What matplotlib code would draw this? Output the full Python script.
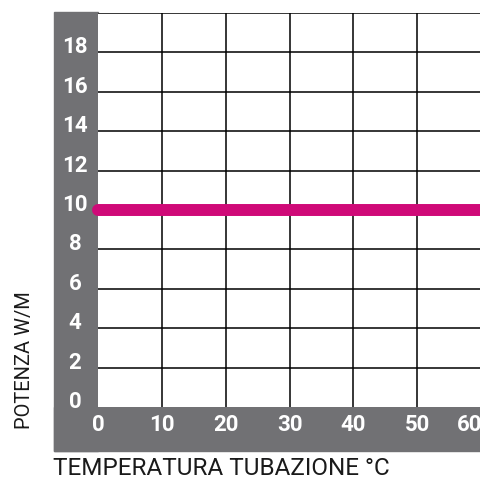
import matplotlib
matplotlib.use('Agg')
import matplotlib.pyplot as plt
from matplotlib.patches import Rectangle

# data
temps = [0, 60]
power = [10, 10]
x_ticks = [0, 10, 20, 30, 40, 50, 60]
y_ticks = [0, 2, 4, 6, 8, 10, 12, 14, 16, 18]
y_grid = [2, 4, 6, 8, 10, 12, 14, 16, 18, 20]
x_grid = [10, 20, 30, 40, 50]

W = 481
gray = '#717174'
magenta = '#cf0a78'

fig = plt.figure(figsize=(4.81, 4.81), dpi=100)
fig.patch.set_facecolor('white')

# gray bands (left and bottom), behind the axes
fig.patches.append(Rectangle((54 / W, (W - 452) / W), 44 / W, (452 - 13) / W,
                             transform=fig.transFigure, color=gray, zorder=-5))
fig.patches.append(Rectangle((54 / W, (W - 452) / W), (W - 54) / W, 44 / W,
                             transform=fig.transFigure, color=gray, zorder=-5))

ax = fig.add_axes([98 / W, (W - 408) / W, (W - 98) / W, (408 - 14) / W])
ax.set_xlim(0, 60)
ax.set_ylim(0, 20)
ax.set_facecolor('white')
for s in ax.spines.values():
    s.set_visible(False)
ax.set_xticks([])
ax.set_yticks([])

ax.hlines(y_grid, 0, 60, color='black', lw=1.1, zorder=1)
ax.vlines(x_grid, 0, 20, color='black', lw=1.1, zorder=1)

ax.plot(temps, power, color=magenta, lw=8.6, solid_capstyle='round',
        clip_on=False, zorder=3)

tick_font = dict(family=['Roboto', 'DejaVu Sans'], weight='bold',
                 size=16, color='white')
for v in y_ticks:
    ax.annotate(str(v), xy=(-23 / 383, v), xycoords=('axes fraction', 'data'),
                xytext=(0, 4.3), textcoords='offset points',
                ha='center', va='center', **tick_font)
for v in x_ticks:
    dx = -8 if v == 60 else 0
    ax.annotate(str(v), xy=(v, 0), xycoords=('data', 'axes fraction'),
                xytext=(dx, -12.2), textcoords='offset points',
                ha='center', va='center', annotation_clip=False, **tick_font)

label_font = dict(family=['Roboto', 'DejaVu Sans'], color='#1a1a1a')
fig.text(53 / W, 1 - 469 / W, 'TEMPERATURA TUBAZIONE °C', ha='left', va='center',
         size=17.5, **label_font)
fig.text(25 / W, 1 - 360 / W, 'POTENZA W/M', rotation=90, ha='center',
         va='center', size=14.5, **label_font)

fig.savefig('out.png', dpi=100)
